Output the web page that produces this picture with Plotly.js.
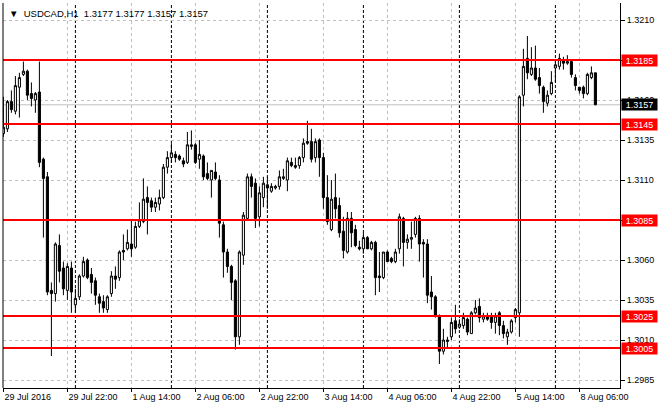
<!DOCTYPE html>
<html>
<head>
<meta charset="utf-8">
<script src="https://cdn.plot.ly/plotly-3.0.1.min.js"></script>
<style>html,body{margin:0;padding:0;background:#fff;}#chart{width:660px;height:410px;}</style>
</head>
<body>
<div id="chart"></div>
<script>
const symbol = "USDCAD,H1";
const openP = [1.3139,1.3142,1.3159,1.3153,1.3168,1.3176,1.3178,1.3164,1.3160,1.3165,
1.3123,1.3112,1.3041,1.3039,1.3069,1.3055,1.3041,1.3055,1.3032,1.3037,
1.3050,1.3060,1.3051,1.3047,1.3037,1.3034,1.3029,1.3039,1.3050,1.3049,
1.3066,1.3067,1.3070,1.3068,1.3081,1.3084,1.3099,1.3097,1.3093,1.3095,
1.3099,1.3118,1.3124,1.3126,1.3125,1.3122,1.3121,1.3131,1.3132,1.3123,
1.3125,1.3114,1.3110,1.3115,1.3110,1.3082,1.3065,1.3056,1.3047,1.3012,
1.3063,1.3086,1.3112,1.3108,1.3087,1.3099,1.3107,1.3103,1.3105,1.3106,
1.3111,1.3110,1.3121,1.3119,1.3119,1.3124,1.3134,1.3134,1.3124,1.3135,
1.3124,1.3099,1.3079,1.3099,1.3094,1.3078,1.3065,1.3086,1.3079,1.3068,
1.3067,1.3074,1.3067,1.3071,1.3050,1.3049,1.3065,1.3061,1.3059,1.3067,
1.3086,1.3071,1.3073,1.3076,1.3086,1.3071,1.3070,1.3040,1.3037,1.3025,
1.3003,1.3009,1.3012,1.3022,1.3018,1.3019,1.3023,1.3014,1.3027,1.3031,
1.3023,1.3025,1.3025,1.3021,1.3027,1.3019,1.3012,1.3015,1.3024,1.3027,
1.3163,1.3186,1.3176,1.3180,1.3174,1.3168,1.3158,1.3164,1.3180,1.3181,
1.3185,1.3183,1.3184,1.3174,1.3168,1.3168,1.3164,1.3174,1.3177];
const highP = [1.3162,1.3160,1.3166,1.3175,1.3177,1.3184,1.3179,1.3171,1.3165,1.3184,
1.3124,1.3115,1.3046,1.3071,1.3076,1.3059,1.3058,1.3059,1.3042,1.3051,
1.3062,1.3061,1.3055,1.3049,1.3039,1.3038,1.3038,1.3053,1.3056,1.3066,
1.3076,1.3079,1.3085,1.3084,1.3096,1.3111,1.3106,1.3099,1.3099,1.3104,
1.3120,1.3128,1.3133,1.3128,1.3126,1.3124,1.3140,1.3141,1.3133,1.3135,
1.3126,1.3121,1.3116,1.3121,1.3113,1.3084,1.3067,1.3057,1.3048,1.3066,
1.3090,1.3114,1.3114,1.3111,1.3106,1.3112,1.3112,1.3108,1.3107,1.3116,
1.3117,1.3124,1.3124,1.3124,1.3125,1.3136,1.3147,1.3142,1.3136,1.3136,
1.3127,1.3113,1.3110,1.3114,1.3099,1.3087,1.3090,1.3090,1.3082,1.3072,
1.3077,1.3075,1.3072,1.3072,1.3065,1.3065,1.3066,1.3062,1.3067,1.3089,
1.3087,1.3076,1.3084,1.3087,1.3088,1.3073,1.3073,1.3050,1.3038,1.3026,
1.3017,1.3012,1.3024,1.3032,1.3023,1.3027,1.3024,1.3028,1.3035,1.3036,
1.3027,1.3027,1.3027,1.3027,1.3028,1.3022,1.3017,1.3023,1.3030,1.3163,
1.3192,1.3200,1.3193,1.3194,1.3180,1.3169,1.3166,1.3178,1.3184,1.3189,
1.3187,1.3188,1.3185,1.3176,1.3168,1.3169,1.3177,1.3181,1.3177];
const lowP = [1.3137,1.3140,1.3152,1.3151,1.3149,1.3175,1.3160,1.3156,1.3152,1.3118,
1.3074,1.3038,1.3000,1.3034,1.3046,1.3038,1.3035,1.3027,1.3027,1.3035,
1.3049,1.3048,1.3039,1.3032,1.3027,1.3027,1.3027,1.3037,1.3042,1.3047,
1.3060,1.3066,1.3062,1.3067,1.3080,1.3083,1.3076,1.3090,1.3090,1.3091,
1.3098,1.3114,1.3121,1.3121,1.3122,1.3118,1.3120,1.3129,1.3120,1.3117,
1.3110,1.3110,1.3099,1.3110,1.3074,1.3049,1.3052,1.3035,1.3004,1.3007,
1.3057,1.3085,1.3099,1.3080,1.3081,1.3093,1.3092,1.3102,1.3104,1.3104,
1.3110,1.3103,1.3118,1.3117,1.3117,1.3121,1.3132,1.3121,1.3121,1.3112,
1.3092,1.3082,1.3078,1.3086,1.3074,1.3061,1.3064,1.3068,1.3068,1.3066,
1.3064,1.3067,1.3066,1.3038,1.3040,1.3048,1.3059,1.3058,1.3058,1.3064,
1.3056,1.3067,1.3067,1.3074,1.3059,1.3049,1.3033,1.3029,1.3024,1.2995,
1.3001,1.3005,1.3010,1.3014,1.3017,1.3017,1.3013,1.3014,1.3026,1.3021,
1.3021,1.3022,1.3017,1.3014,1.3013,1.3011,1.3007,1.3014,1.3021,1.3012,
1.3156,1.3173,1.3175,1.3172,1.3164,1.3152,1.3156,1.3163,1.3171,1.3179,
1.3179,1.3182,1.3174,1.3166,1.3164,1.3161,1.3163,1.3173,1.3157];
const closeP = [1.3143,1.3159,1.3154,1.3169,1.3174,1.3178,1.3163,1.3161,1.3164,1.3121,
1.3111,1.3040,1.3039,1.3070,1.3053,1.3042,1.3056,1.3040,1.3036,1.3050,
1.3059,1.3049,1.3046,1.3038,1.3033,1.3030,1.3037,1.3050,1.3048,1.3065,
1.3065,1.3071,1.3067,1.3081,1.3085,1.3098,1.3096,1.3093,1.3096,1.3099,
1.3118,1.3124,1.3127,1.3124,1.3123,1.3120,1.3132,1.3132,1.3121,1.3126,
1.3112,1.3111,1.3116,1.3111,1.3083,1.3065,1.3056,1.3046,1.3012,1.3065,
1.3088,1.3112,1.3106,1.3086,1.3102,1.3108,1.3105,1.3106,1.3106,1.3112,
1.3112,1.3122,1.3119,1.3118,1.3124,1.3133,1.3133,1.3123,1.3134,1.3124,
1.3099,1.3084,1.3098,1.3092,1.3077,1.3066,1.3086,1.3077,1.3069,1.3067,
1.3074,1.3067,1.3071,1.3049,1.3049,1.3065,1.3059,1.3059,1.3065,1.3087,
1.3071,1.3073,1.3074,1.3086,1.3070,1.3070,1.3038,1.3037,1.3025,1.3003,
1.3010,1.3010,1.3021,1.3017,1.3020,1.3024,1.3015,1.3027,1.3030,1.3024,
1.3025,1.3023,1.3021,1.3025,1.3019,1.3014,1.3015,1.3022,1.3029,1.3162,
1.3181,1.3177,1.3180,1.3173,1.3169,1.3159,1.3163,1.3171,1.3182,1.3186,
1.3183,1.3184,1.3176,1.3169,1.3166,1.3164,1.3176,1.3177,1.3157];

// time axis: bar indices of labelled ticks and their texts
const tickBars = [0,16,32,48,64,80,96,112,128,144];
const tickLabels = ["29 Jul 2016","29 Jul 22:00","1 Aug 14:00","2 Aug 06:00","2 Aug 22:00",
                    "3 Aug 14:00","4 Aug 06:00","4 Aug 22:00","5 Aug 14:00","8 Aug 06:00"];
const daySeparatorBars = [18,42,66,90,114,138];
const priceTicks = [1.2985,1.3010,1.3035,1.3060,1.3085,1.3110,1.3135,1.3160,1.3185,1.3210];
const levels = [1.3185,1.3145,1.3085,1.3025,1.3005];
const bidPrice = 1.3157;

const FONT = "'Liberation Sans', Arial, sans-serif";
const FS = 9;
const NB = '\u00a0';
const n = openP.length;
const xIdx = openP.map((_, i) => i);
const last = n - 1;

const trace = {
  type: 'candlestick',
  x: xIdx, open: openP, high: highP, low: lowP, close: closeP,
  increasing: {line: {color: '#000', width: 1}, fillcolor: '#fff'},
  decreasing: {line: {color: '#000', width: 1}, fillcolor: '#000'},
  whiskerwidth: 0,
  hoverinfo: 'skip'
};

const shapes = [];
daySeparatorBars.forEach(b => shapes.push({
  type: 'line', xref: 'x', yref: 'paper', x0: b, x1: b, y0: 0, y1: 1, layer: 'below',
  line: {color: '#000', width: 1, dash: '3px,2px'}
}));
shapes.push({type: 'line', xref: 'paper', yref: 'y', x0: 0, x1: 1, y0: bidPrice, y1: bidPrice,
  layer: 'below', line: {color: '#c0c0c0', width: 1}});
levels.forEach(v => shapes.push({
  type: 'line', xref: 'paper', yref: 'y', x0: 0, x1: 1, y0: v, y1: v, layer: 'above',
  line: {color: '#ff0000', width: 2}
}));
shapes.push({type: 'line', xref: 'paper', yref: 'paper', x0: 0, x1: 0, y0: 0, y1: 1,
  line: {color: '#000', width: 1}});

// tick labels that the price-level boxes cover completely are left blank
const hiddenTicks = levels.map(v => v.toFixed(4));
const priceTickText = priceTicks.map(v => hiddenTicks.includes(v.toFixed(4)) ? '' : v.toFixed(4));

const annotations = [];
levels.forEach(v => annotations.push({
  xref: 'paper', yref: 'y', x: 1, y: v, xanchor: 'left', yanchor: 'middle', xshift: 1,
  text: v.toFixed(4), showarrow: false, bgcolor: '#ff0000', borderpad: 0,
  width: 35, height: 11, align: 'center',
  font: {family: FONT, size: FS, color: '#fff'}
}));
annotations.push({
  xref: 'paper', yref: 'y', x: 1, y: bidPrice, xanchor: 'left', yanchor: 'middle', xshift: 1,
  text: bidPrice.toFixed(4), showarrow: false, bgcolor: '#000', borderpad: 0,
  width: 35, height: 11, align: 'center',
  font: {family: FONT, size: FS, color: '#fff'}
});
annotations.push({
  xref: 'paper', yref: 'paper', x: 0, y: 1, xanchor: 'left', yanchor: 'top', xshift: 4, yshift: -3,
  text: '▼' + NB + NB + symbol + NB + NB + [openP[last], highP[last], lowP[last], closeP[last]].map(v => v.toFixed(4)).join(NB),
  showarrow: false, font: {family: FONT, size: FS + 0.5, color: '#000'}
});

const layout = {
  width: 660, height: 410,
  margin: {l: 3, r: 40, t: 3, b: 22, pad: 0},
  paper_bgcolor: '#fff', plot_bgcolor: '#fff',
  showlegend: false,
  boxgap: 0.25,
  font: {family: FONT, size: FS, color: '#000'},
  xaxis: {
    type: 'linear', range: [-0.1, 154.15], rangeslider: {visible: false},
    tickmode: 'array', tickvals: tickBars, ticktext: tickLabels,
    ticklabelposition: 'outside right',
    ticks: 'outside', ticklen: 3, tickcolor: '#000',
    showgrid: true, gridcolor: '#c0c0c0', griddash: '3px,3px', gridwidth: 1,
    showline: true, linecolor: '#000', linewidth: 1, zeroline: false,
    tickfont: {family: FONT, size: FS, color: '#000'}, fixedrange: true
  },
  yaxis: {
    side: 'right', range: [1.2980, 1.3220625],
    tickmode: 'array', tickvals: priceTicks, ticktext: priceTickText,
    ticks: 'outside', ticklen: 4, tickcolor: '#000',
    showgrid: true, gridcolor: '#c0c0c0', griddash: '3px,3px', gridwidth: 1,
    showline: true, linecolor: '#000', linewidth: 1, zeroline: false,
    tickfont: {family: FONT, size: FS, color: '#000'}, fixedrange: true
  },
  shapes: shapes,
  annotations: annotations
};

Plotly.newPlot('chart', [trace], layout, {staticPlot: true, displayModeBar: false});
</script>
</body>
</html>
